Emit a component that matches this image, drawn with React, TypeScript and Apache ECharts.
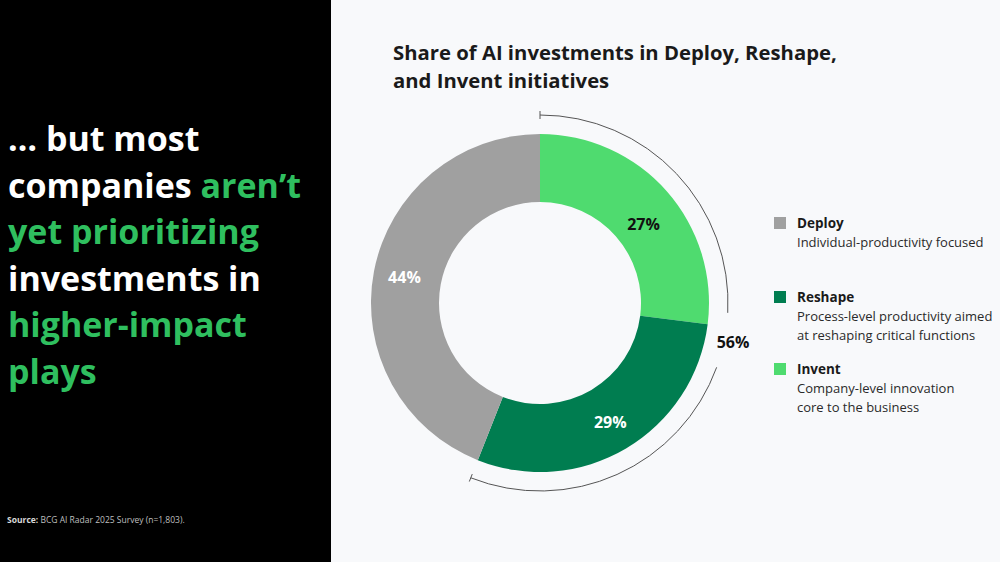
import React, { useEffect, useRef } from "react";
import * as echarts from "echarts";

// ---- data ----
const categories = ["Invent", "Reshape", "Deploy"];
const values = [27, 29, 44];
const sliceColors = ["#4fdb6f", "#007d50", "#a0a0a0"];
const sliceLabelColors = ["#111111", "#ffffff", "#ffffff"];
const legendOrder = ["Deploy", "Reshape", "Invent"];
const legendDescriptions = [
  ["Individual-productivity focused"],
  ["Process-level productivity aimed", "at reshaping critical functions"],
  ["Company-level innovation", "core to the business"],
];
const bracketCategories = ["Invent", "Reshape"];
const titleLines = ["Share of AI investments in Deploy, Reshape,", "and Invent initiatives"];
const headlineLines = [
  [["w", "… but most"]],
  [["w", "companies "], ["g", "aren’t"]],
  [["g", "yet prioritizing"]],
  [["w", "investments in"]],
  [["g", "higher-impact"]],
  [["g", "plays"]],
];
const sourceBold = "Source:";
const sourceText = " BCG AI Radar 2025 Survey (n=1,803).";

const FONT = '"Open Sans", "Noto Sans", sans-serif';

export default function App() {
  const ref = useRef<HTMLDivElement>(null);
  useEffect(() => {
    if (!ref.current) return;
    const chart = echarts.init(ref.current, undefined, { renderer: "svg" });

    const cx = 540;
    const cy = 303;
    const total = values.reduce((a, b) => a + b, 0);
    const bracketSum = bracketCategories.reduce(
      (s, c) => s + values[categories.indexOf(c)],
      0
    );
    const bracketEndDeg = (360 * bracketSum) / total;
    const toRad = (d: number) => ((d - 90) * Math.PI) / 180;
    const rB = 188;
    const gapStart = 93;
    const gapEnd = 110;
    const labelDeg = (gapStart + gapEnd) / 2;
    const rLabel = 197;

    const tick = (deg: number) => {
      const a = toRad(deg);
      return {
        type: "line",
        shape: {
          x1: cx + 184 * Math.cos(a),
          y1: cy + 184 * Math.sin(a),
          x2: cx + 192 * Math.cos(a),
          y2: cy + 192 * Math.sin(a),
        },
        style: { stroke: "#555", lineWidth: 1 },
      };
    };

    const legendYs = [223, 297, 369];
    const legendEls: any[] = [];
    legendOrder.forEach((name, i) => {
      const idx = categories.indexOf(name);
      const y = legendYs[i];
      legendEls.push({
        type: "rect",
        shape: { x: 774, y: y - 6, width: 12, height: 12 },
        style: { fill: sliceColors[idx] },
      });
      legendEls.push({
        type: "text",
        style: {
          text: name,
          x: 797,
          y,
          fill: "#1a1a1a",
          font: `bold 13.5px ${FONT}`,
          verticalAlign: "middle",
          textVerticalAlign: "middle",
        },
      });
      legendDescriptions[i].forEach((d, j) => {
        legendEls.push({
          type: "text",
          style: {
            text: d,
            x: 797,
            y: y + 19 + j * 18.5,
            fill: "#2a2a2a",
            font: `13px ${FONT}`,
            verticalAlign: "middle",
            textVerticalAlign: "middle",
          },
        });
      });
    });

    const headlineText = headlineLines
      .map((line) => line.map(([k, t]) => `{${k}|${t}}`).join(""))
      .join("\n");

    chart.setOption({
      animation: false,
      backgroundColor: "#f8f9fb",
      series: [
        {
          type: "pie",
          center: [cx, cy],
          radius: [101, 169],
          startAngle: 90,
          clockwise: true,
          silent: true,
          label: {
            show: true,
            position: "inside",
            formatter: "{c}%",
            fontFamily: FONT,
            fontWeight: "bold",
            fontSize: 16,
          },
          labelLine: { show: false },
          data: categories.map((c, i) => ({
            name: c,
            value: values[i],
            itemStyle: { color: sliceColors[i] },
            label: { color: sliceLabelColors[i], offset: i === 0 ? [0, 12] : [0, 0] },
          })),
        },
      ],
      graphic: [
        {
          type: "rect",
          z: -10,
          shape: { x: 0, y: 0, width: 331, height: 562 },
          style: { fill: "#000000" },
        },
        {
          type: "text",
          style: {
            text: headlineText,
            x: 8,
            y: 115,
            font: `bold 34px ${FONT}`,
            lineHeight: 46.5,
            rich: {
              w: { fill: "#ffffff", font: `bold 34px ${FONT}`, lineHeight: 46.5 },
              g: { fill: "#2fbf5f", font: `bold 34px ${FONT}`, lineHeight: 46.5 },
            },
          },
        },
        {
          type: "text",
          style: {
            text: `{b|${sourceBold}}{r|${sourceText}}`,
            x: 7,
            y: 519,
            verticalAlign: "middle",
            textVerticalAlign: "middle",
            rich: {
              b: { fill: "#d8d8d8", font: `bold 8.5px ${FONT}` },
              r: { fill: "#bfbfbf", font: `8.5px ${FONT}` },
            },
          },
        },
        ...titleLines.map((t, i) => ({
          type: "text",
          style: {
            text: t,
            x: 393,
            y: 52 + i * 28,
            fill: "#1a1a1a",
            font: `bold 20.3px ${FONT}`,
            verticalAlign: "middle",
            textVerticalAlign: "middle",
          },
        })),
        {
          type: "arc",
          shape: { cx, cy, r: rB, startAngle: toRad(0), endAngle: toRad(gapStart), clockwise: true },
          style: { stroke: "#555", lineWidth: 1, fill: "none" },
        },
        {
          type: "arc",
          shape: { cx, cy, r: rB, startAngle: toRad(gapEnd), endAngle: toRad(bracketEndDeg), clockwise: true },
          style: { stroke: "#555", lineWidth: 1, fill: "none" },
        },
        tick(0),
        tick(bracketEndDeg),
        {
          type: "text",
          style: {
            text: `${bracketSum}%`,
            x: cx + rLabel * Math.cos(toRad(labelDeg)),
            y: cy + rLabel * Math.sin(toRad(labelDeg)),
            fill: "#111",
            font: `bold 16px ${FONT}`,
            align: "center",
            verticalAlign: "middle",
            textAlign: "center",
            textVerticalAlign: "middle",
          },
        },
        ...legendEls,
      ],
    });
    return () => chart.dispose();
  }, []);
  return (
    <div
      ref={ref}
      style={{ position: "fixed", left: 0, top: 0, width: 1000, height: 562 }}
    />
  );
}
